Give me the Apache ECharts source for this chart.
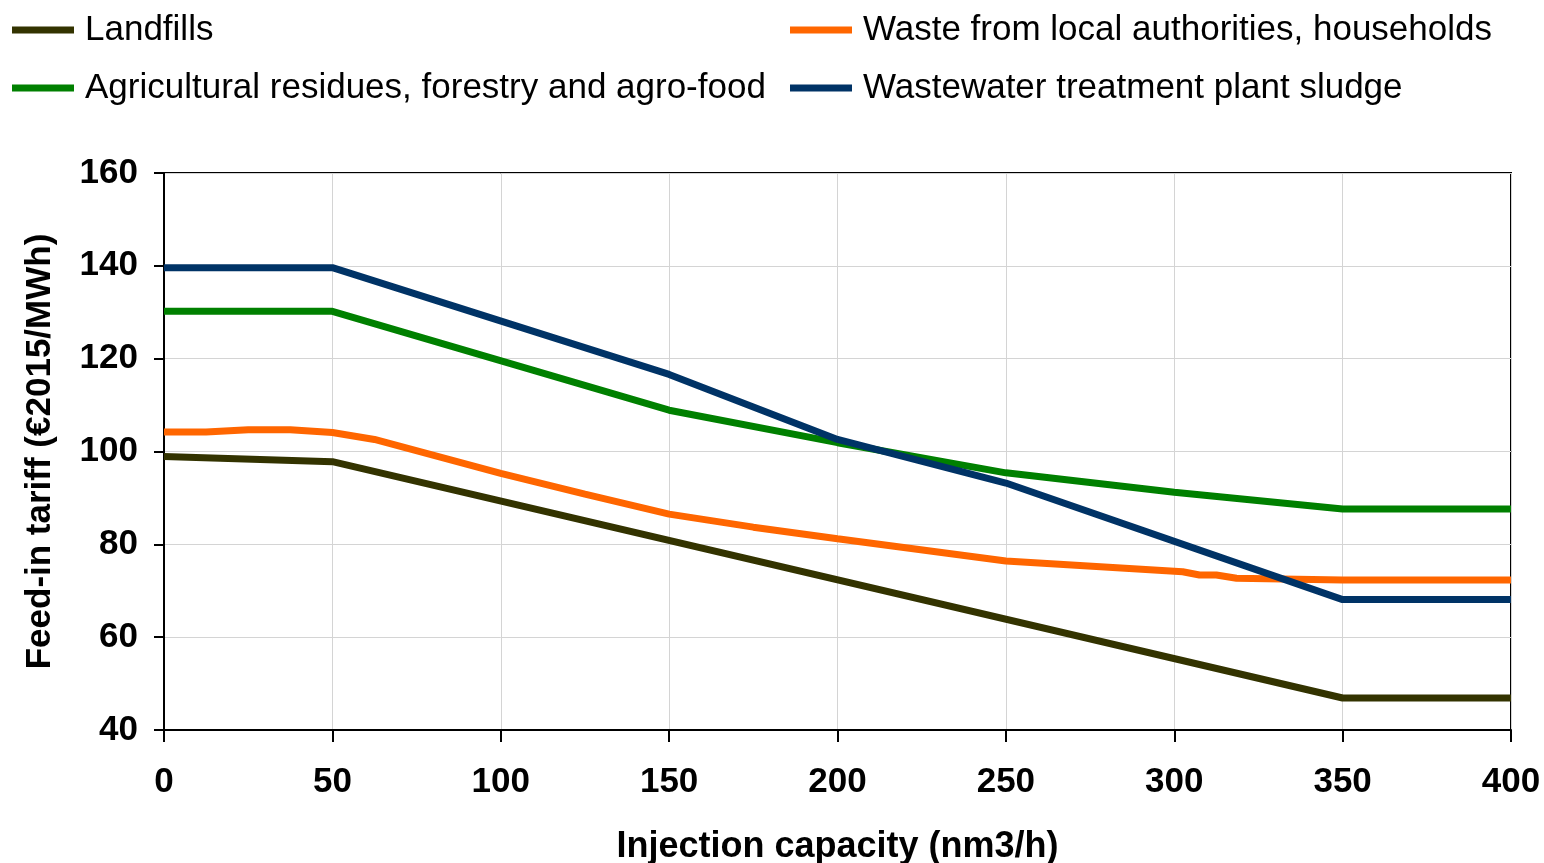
<!DOCTYPE html>
<html>
<head>
<meta charset="utf-8">
<script src="https://cdn.jsdelivr.net/npm/echarts@6/dist/echarts.min.js"></script>
<style>html,body{margin:0;padding:0;background:#fff;}#c{width:1544px;height:863px;}</style>
</head>
<body>
<div id="c"></div>
<script>
const seriesNames = ['Landfills', 'Agricultural residues, forestry and agro-food', 'Waste from local authorities, households', 'Wastewater treatment plant sludge'];
const landfills = [[0, 98.9], [50, 97.8], [350, 46.9], [400, 46.9]];
const agricultural = [[0, 130.2], [50, 130.2], [150, 108.9], [200, 101.9], [250, 95.4], [300, 91.2], [350, 87.6], [400, 87.6]];
const waste = [[0, 104.2], [12.5, 104.2], [25, 104.7], [37.5, 104.7], [50, 104.1], [62.5, 102.6], [100, 95.3], [125, 90.8], [150, 86.5], [175, 83.7], [200, 81.2], [250, 76.4], [302.5, 74.1], [307.5, 73.4], [312.5, 73.4], [318.5, 72.7], [350, 72.3], [400, 72.3]];
const sludge = [[0, 139.6], [50, 139.6], [150, 116.6], [200, 102.6], [250, 93.2], [350, 68.1], [400, 68.1]];
const xTicks = {min: 0, max: 400, interval: 50};
const yTicks = {min: 40, max: 160, interval: 20};
const colors = ['#333300', '#008000', '#FF6600', '#003366'];

const font = 'Liberation Sans, Arial, sans-serif';
const chart = echarts.init(document.getElementById('c'));
const legendCommon = {
  orient: 'vertical', top: 5, itemWidth: 62, itemHeight: 7, itemGap: 18,
  icon: 'rect',
  textStyle: {fontFamily: font, fontSize: 35, color: '#000', lineHeight: 40, padding: [0, 0, 0, 6]}
};
const datas = [landfills, agricultural, waste, sludge];
chart.setOption({
  animation: false,
  legend: [
    Object.assign({left: 7, data: [seriesNames[0], seriesNames[1]]}, legendCommon),
    Object.assign({left: 785, data: [seriesNames[2], seriesNames[3]]}, legendCommon)
  ],
  grid: {left: 164, right: 33, top: 173, bottom: 133, outerBoundsMode: 'none', containLabel: false, show: true, borderColor: '#000', borderWidth: 2, backgroundColor: 'transparent'},
  xAxis: {
    type: 'value', min: xTicks.min, max: xTicks.max, interval: xTicks.interval,
    name: 'Injection capacity (nm3/h)', nameLocation: 'middle', nameGap: 99,
    nameTextStyle: {fontFamily: font, fontSize: 36, fontWeight: 'bold', color: '#000'},
    axisLine: {lineStyle: {color: '#000', width: 2}},
    axisTick: {show: true, length: 12, lineStyle: {color: '#000', width: 2}},
    axisLabel: {fontFamily: font, fontSize: 35, fontWeight: 'bold', color: '#000', margin: 35},
    splitLine: {show: true, lineStyle: {color: '#d4d4d4', width: 1}}
  },
  yAxis: {
    type: 'value', min: yTicks.min, max: yTicks.max, interval: yTicks.interval,
    name: 'Feed-in tariff (€2015/MWh)', nameLocation: 'middle', nameGap: 106,
    nameTextStyle: {fontFamily: font, fontSize: 35, fontWeight: 'bold', color: '#000'},
    axisLine: {show: true, lineStyle: {color: '#000', width: 2}},
    axisTick: {show: true, length: 10, lineStyle: {color: '#000', width: 2}},
    axisLabel: {fontFamily: font, fontSize: 35, fontWeight: 'bold', color: '#000', margin: 26},
    splitLine: {show: true, lineStyle: {color: '#d4d4d4', width: 1}}
  },
  series: seriesNames.map((n, i) => ({
    name: n, type: 'line', data: datas[i], showSymbol: false, symbol: 'none',
    color: colors[i], lineStyle: {width: 7, color: colors[i]}, z: [3, 4, 5, 6][i]
  }))
});
</script>
</body>
</html>
